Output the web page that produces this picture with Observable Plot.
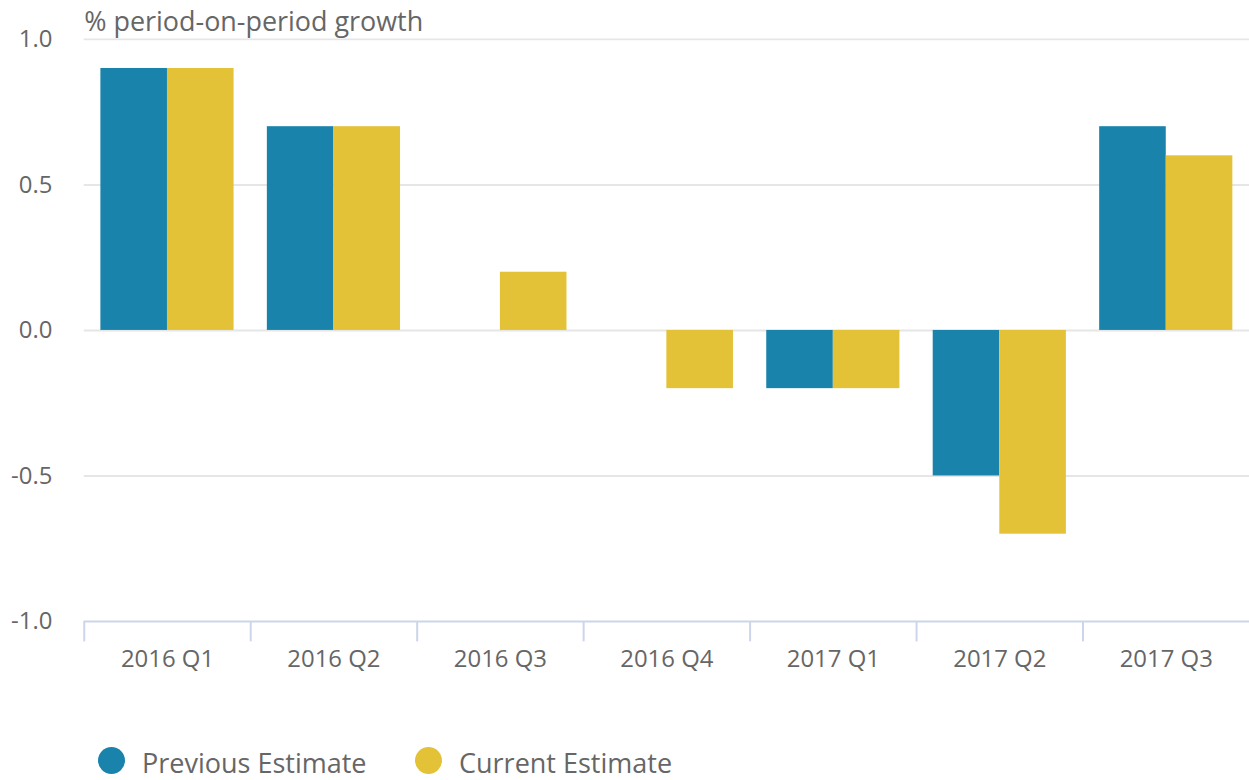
<!DOCTYPE html>
<html>
<head>
<meta charset="utf-8">
<script src="https://cdn.jsdelivr.net/npm/d3@7"></script>
<script src="https://cdn.jsdelivr.net/npm/@observablehq/plot@0.6"></script>
<style>
  html, body { margin: 0; padding: 0; background: #fff; overflow: hidden; }
  #wrap { width: 1249px; overflow: hidden; font-family: "Open Sans", sans-serif; }
  #chart svg { display: block; }
  #legend { position: relative; height: 60px; margin-top: 29px; }
  .item { position: absolute; top: 0; display: flex; align-items: center; height: 28px; color: #666; font-size: 27px; }
  .item span.lab { position: relative; top: 2px; }
  .dot { width: 27px; height: 27px; border-radius: 50%; margin-right: 17px; }
</style>
</head>
<body>
<div id="wrap">
  <div id="chart"></div>
  <div id="legend"></div>
</div>
<script>
const quarters = ["2016 Q1", "2016 Q2", "2016 Q3", "2016 Q4", "2017 Q1", "2017 Q2", "2017 Q3"];
const previousEstimate = [0.9, 0.7, null, null, -0.2, -0.5, 0.7];
const currentEstimate = [0.9, 0.7, 0.2, -0.2, -0.2, -0.7, 0.6];
const seriesNames = ["Previous Estimate", "Current Estimate"];
const seriesColors = ["#1a83ab", "#e3c238"];
const yTicks = [-1, -0.5, 0, 0.5, 1];
const gridTicks = [1, 0.5, 0, -0.5];
const titleText = ["% period-on-period growth"];

const rows = quarters.map((q, i) => ({quarter: q, prev: previousEstimate[i], curr: currentEstimate[i]}));

const W = 1253, ML = 84, MR = 0;
const bw = (W - ML - MR) / quarters.length;

const chart = Plot.plot({
  width: W,
  height: 720,
  marginLeft: ML,
  marginRight: MR,
  marginTop: 39,
  marginBottom: 97,
  style: {fontFamily: "Open Sans", fontSize: "24px", color: "#666", background: "#fff"},
  x: {domain: quarters, padding: 0, label: null, tickSize: 0, tickPadding: 29},
  y: {domain: [-1, 1], ticks: yTicks, tickFormat: d => d.toFixed(1), label: null, tickSize: 0, tickPadding: 32},
  marks: [
    Plot.ruleY(gridTicks, {stroke: "#e6e6e6", strokeWidth: 2}),
    Plot.barY(rows, {x: "quarter", y: "prev", fill: seriesColors[0], insetLeft: 0.1 * bw, insetRight: 0.5 * bw}),
    Plot.barY(rows, {x: "quarter", y: "curr", fill: seriesColors[1], insetLeft: 0.5 * bw, insetRight: 0.1 * bw}),
    Plot.ruleY([-1], {stroke: "#ccd6eb", strokeWidth: 2}),
    Plot.ruleX(quarters, {x: d => d, y1: -1, y2: -1.07, dx: -bw / 2, stroke: "#ccd6eb", strokeWidth: 2}),
    Plot.text(titleText, {text: d => d, frameAnchor: "top-left", lineAnchor: "middle", textAnchor: "start", dx: 0, dy: -17, fontSize: 27, fill: "#666"})
  ]
});
document.getElementById("chart").appendChild(chart);

const legend = document.getElementById("legend");
const lefts = [98, 415];
seriesNames.forEach((name, i) => {
  const item = document.createElement("div");
  item.className = "item";
  item.style.left = lefts[i] + "px";
  const dot = document.createElement("span");
  dot.className = "dot";
  dot.style.background = seriesColors[i];
  const label = document.createElement("span");
  label.className = "lab";
  label.textContent = name;
  item.appendChild(dot);
  item.appendChild(label);
  legend.appendChild(item);
});
</script>
</body>
</html>
